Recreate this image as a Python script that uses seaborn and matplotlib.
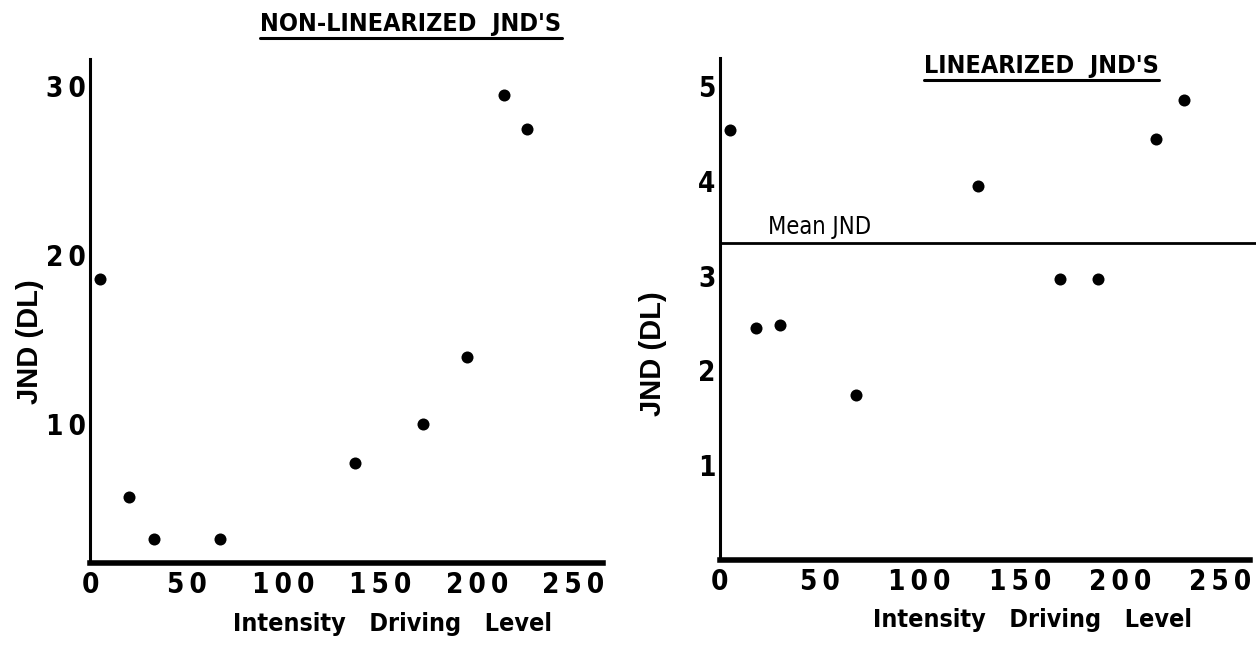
import matplotlib
matplotlib.use("Agg")
import matplotlib.pyplot as plt
import seaborn as sns
from matplotlib import font_manager, patheffects
from matplotlib.lines import Line2D

# JND de la escala sin linealizar
raw_level = [5, 20, 33, 67, 137, 172, 195, 214, 226]
raw_jnd = [18.6, 5.7, 3.2, 3.2, 7.7, 10.0, 14.0, 29.5, 27.5]

# JND de la escala linealizada
lin_level = [5, 18, 30, 68, 129, 170, 189, 218, 232]
lin_jnd = [4.54, 2.45, 2.48, 1.74, 3.95, 2.97, 2.97, 4.44, 4.86]
mean_jnd = 3.35

x_ticks = [0, 50, 100, 150, 200, 250]
x_tick_labels = ["0", "5\u20090", "1\u20090\u20090", "1\u20095\u20090",
                 "2\u20090\u20090", "2\u20095\u20090"]
raw_y_ticks = [10, 20, 30]
raw_y_tick_labels = ["1\u20090", "2\u20090", "3\u20090"]
lin_y_ticks = [1, 2, 3, 4, 5]
lin_y_tick_labels = ["1", "2", "3", "4", "5"]


def is_narrow(f):
    return ("Narrow" in f.name or "Condensed" in f.name
            or f.stretch in ("condensed", "semi-condensed", "extra-condensed"))


def weight_num(w):
    names = {"bold": 700, "semibold": 600, "demibold": 600, "heavy": 800,
             "black": 900, "extra bold": 800, "normal": 400, "regular": 400}
    if isinstance(w, (int, float)):
        return w
    return names.get(str(w).lower(), 400)


def pick_condensed():
    # busca una fuente estrecha (mejor si tiene negrita)
    narrow_fonts = [f for f in font_manager.fontManager.ttflist if is_narrow(f)]
    bold = [f for f in narrow_fonts if weight_num(f.weight) >= 600]
    regular = [f for f in narrow_fonts if weight_num(f.weight) < 600]
    pool = bold or regular
    if not pool:
        return None, None, None
    f = pool[0]
    return f.name, f.stretch, bool(bold)


sns.set_theme(style="white")
cond_name, cond_stretch, has_bold = pick_condensed()
if cond_name is None:
    narrow = ["DejaVu Sans"]
    stretch = "normal"
    k = 0.8
else:
    narrow = [cond_name, "DejaVu Sans"]
    stretch = cond_stretch
    k = 1.0
wide = ["Liberation Sans", "DejaVu Sans"]
plt.rcParams["font.family"] = narrow
plt.rcParams["font.stretch"] = stretch
for key in ["text.color", "axes.labelcolor", "xtick.color", "ytick.color"]:
    plt.rcParams[key] = "black"
# contorno para engrosar si la fuente estrecha no tiene negrita
thick = [] if has_bold else [patheffects.withStroke(linewidth=1.1, foreground="black")]


def underline(fig, txt, gap=2, lw=2.2):
    r = fig.canvas.get_renderer()
    bb = txt.get_window_extent(renderer=r)
    inv = fig.transFigure.inverted()
    (x0, y0), (x1, _) = inv.transform([(bb.x0, bb.y0 - gap), (bb.x1, bb.y0)])
    fig.add_artist(Line2D([x0, x1], [y0, y0], color="black", lw=lw,
                          transform=fig.transFigure))


def style_axes(ax, yticks, ylabels):
    sns.despine(ax=ax)
    ax.spines["left"].set_linewidth(2.2)
    ax.spines["bottom"].set_linewidth(4.0)
    ax.spines["left"].set_color("black")
    ax.spines["bottom"].set_color("black")
    ax.set_xlim(0, 265)
    ax.set_xticks(x_ticks)
    ax.set_xticklabels(x_tick_labels, fontsize=20 * k, fontweight="bold")
    ax.set_yticks(yticks)
    ax.set_yticklabels(ylabels, fontsize=20 * k, fontweight="bold")
    for lab in ax.get_xticklabels() + ax.get_yticklabels():
        lab.set_path_effects(thick)
    ax.tick_params(length=0, pad=6)
    ax.tick_params(axis="y", pad=3)
    ax.set_xlabel("Intensity   Driving   Level", fontsize=18 * k,
                  fontweight="bold")
    ax.xaxis.label.set_path_effects(thick)
    ax.xaxis.set_label_coords(0.59, -0.12)
    ax.xaxis.label.set_va("center")
    ax.set_ylabel("JND (DL)", fontsize=21, fontweight="bold", family=wide,
                  fontstretch="normal")
    ax.yaxis.label.set_va("center")


fig = plt.figure(figsize=(12.56, 6.51), dpi=100)
ax1 = fig.add_axes([0.0717, 0.135, 0.408, 0.774])
ax2 = fig.add_axes([0.573, 0.140, 0.422, 0.771])

sns.scatterplot(x=raw_level, y=raw_jnd, ax=ax1, color="black", s=75,
                linewidth=0, clip_on=False, zorder=3)
ax1.set_ylim(1.8, 31.6)
style_axes(ax1, raw_y_ticks, raw_y_tick_labels)
ax1.yaxis.set_label_coords(-0.117, 0.44)
t1 = ax1.text(166, 33.7, "NON-LINEARIZED  JND'S", ha="center", va="center",
              fontsize=18 * k, fontweight="bold", clip_on=False,
              path_effects=thick)

sns.scatterplot(x=lin_level, y=lin_jnd, ax=ax2, color="black", s=75,
                linewidth=0, clip_on=False, zorder=3)
ax2.set_ylim(0, 5.3)
style_axes(ax2, lin_y_ticks, lin_y_tick_labels)
ax2.yaxis.set_label_coords(-0.125, 0.41)
ax2.axhline(mean_jnd, xmin=0, xmax=1.02, color="black", lw=2, clip_on=False)
ax2.text(24, mean_jnd + 0.04, "Mean JND", fontsize=17 * k, va="bottom",
         ha="left")
t2 = ax2.text(161, 5.22, "LINEARIZED  JND'S", ha="center", va="center",
              fontsize=18 * k, fontweight="bold", clip_on=False,
              path_effects=thick)

fig.canvas.draw()
underline(fig, t1)
underline(fig, t2)

fig.savefig("out.png", dpi=100, facecolor="white")
